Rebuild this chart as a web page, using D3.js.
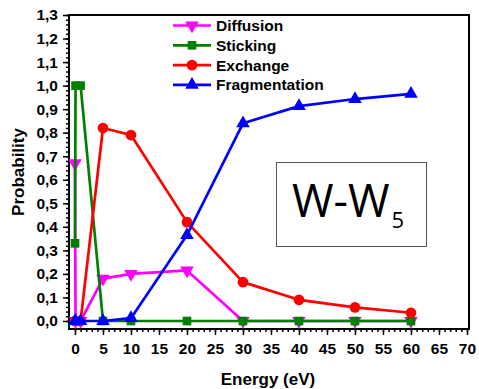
<!DOCTYPE html>
<html>
<head>
<meta charset="utf-8">
<script src="https://cdn.jsdelivr.net/npm/d3@7"></script>
<style>
  html, body { margin: 0; padding: 0; background: #fff; }
  svg { display: block; }
</style>
</head>
<body>
<svg id="chart" width="479" height="389"></svg>
<script>
// Collision energies (eV)
const energy = [0, 0.1, 1, 5, 10, 20, 30, 40, 50, 60];
// Outcome probabilities per energy
const diffusion     = [0.67, 0, 0, 0.18, 0.20, 0.215, 0, 0, 0, 0];
const sticking      = [0.33, 1.0, 1.0, 0, 0, 0, 0, 0, 0, 0];
const exchange      = [0, 0, 0, 0.82, 0.79, 0.42, 0.165, 0.09, 0.058, 0.035];
const fragmentation = [0, 0, 0, 0, 0.012, 0.365, 0.84, 0.913, 0.943, 0.965];

const seriesNames = ["Diffusion", "Sticking", "Exchange", "Fragmentation"];
const seriesColors = ["#ff00ff", "#008000", "#ff0000", "#0000ff"];
const seriesShapes = ["triangleDown", "square", "circle", "triangleUp"];
const seriesValues = [diffusion, sticking, exchange, fragmentation];

const xTicks = d3.range(0, 71, 5);
const yTicks = d3.range(0, 14).map(i => i / 10);

const FONT = "Liberation Sans, Arial, sans-serif";
const svg = d3.select("#chart");
const plot = { left: 69, right: 469, top: 15, bottom: 329 };

const x = d3.scaleLinear().domain([-1.07, 70.36]).range([plot.left, plot.right]);
const y = d3.scaleLinear().domain([-0.034, 1.3]).range([plot.bottom, plot.top]);

const fmt = d => d3.format(".1f")(d).replace(".", ",");

function styleLabels(g) {
  g.select(".domain").remove();
  g.selectAll("line").attr("stroke", "#000").attr("stroke-width", 1.5);
  g.selectAll("text")
    .attr("font-family", FONT).attr("font-weight", "bold")
    .attr("font-size", 15.5).attr("fill", "#000");
}

// Left axis: major ticks every 0.1, minor every 0.02
svg.append("g").attr("transform", `translate(${plot.left},0)`)
  .call(d3.axisLeft(y).tickValues(d3.range(0, 66).map(i => i / 50)).tickSize(3).tickFormat(""))
  .call(styleLabels);
svg.append("g").attr("transform", `translate(${plot.left},0)`)
  .call(d3.axisLeft(y).tickValues(yTicks).tickSize(6).tickPadding(5).tickFormat(fmt))
  .call(styleLabels);

// Bottom axis: major ticks every 5, minor every 1
svg.append("g").attr("transform", `translate(0,${plot.bottom})`)
  .call(d3.axisBottom(x).tickValues(d3.range(0, 71)).tickSize(3).tickFormat(""))
  .call(styleLabels);
svg.append("g").attr("transform", `translate(0,${plot.bottom})`)
  .call(d3.axisBottom(x).tickValues(xTicks).tickSize(6).tickPadding(8).tickFormat(d3.format("d")))
  .call(styleLabels);

// Frame
svg.append("rect")
  .attr("x", plot.left).attr("y", plot.top)
  .attr("width", plot.right - plot.left).attr("height", plot.bottom - plot.top)
  .attr("fill", "none").attr("stroke", "#000").attr("stroke-width", 2);

const symbolFor = {
  square: d3.symbol().type(d3.symbolSquare).size(75),
  circle: d3.symbol().type(d3.symbolCircle).size(90),
  triangleUp: d3.symbol().type(d3.symbolTriangle).size(80),
  triangleDown: d3.symbol().type(d3.symbolTriangle).size(80)
};
function drawMarker(g, shape, cx, cy, color) {
  g.append("path")
    .attr("d", symbolFor[shape]())
    .attr("transform", `translate(${cx},${cy})` + (shape === "triangleDown" ? " rotate(180)" : ""))
    .attr("fill", color);
}

const line = d3.line().x(d => x(d[0])).y(d => y(d[1]));
const plotArea = svg.append("g");

seriesValues.forEach((vals, i) => {
  const pts = energy.map((e, k) => [e, vals[k]]);
  const g = plotArea.append("g");
  g.append("path").datum(pts).attr("d", line)
    .attr("fill", "none").attr("stroke", seriesColors[i]).attr("stroke-width", 2.7)
    .attr("stroke-linejoin", "round");
  pts.forEach(p => drawMarker(g, seriesShapes[i], x(p[0]), y(p[1]), seriesColors[i]));
});

// Legend
const legend = svg.append("g");
seriesNames.forEach((name, i) => {
  const ly = 25.5 + i * 19.8;
  legend.append("line").attr("x1", 173).attr("x2", 211).attr("y1", ly).attr("y2", ly)
    .attr("stroke", seriesColors[i]).attr("stroke-width", 2.7);
  drawMarker(legend, seriesShapes[i], 192, ly, seriesColors[i]);
  legend.append("text").attr("x", 216).attr("y", ly + 5.5)
    .attr("font-family", FONT).attr("font-weight", "bold")
    .attr("font-size", 15.5).text(name);
});

// Axis titles
svg.append("text").attr("x", 268).attr("y", 385).attr("text-anchor", "middle")
  .attr("font-family", FONT).attr("font-weight", "bold")
  .attr("font-size", 17).text("Energy (eV)");
svg.append("text").attr("transform", "translate(24,172) rotate(-90)").attr("text-anchor", "middle")
  .attr("font-family", FONT).attr("font-weight", "bold")
  .attr("font-size", 17).text("Probability");

// System label
svg.append("rect").attr("x", 276.5).attr("y", 162.5).attr("width", 150).attr("height", 84)
  .attr("fill", "#fff").attr("stroke", "#555").attr("stroke-width", 1);
const lbl = svg.append("text").attr("x", 292).attr("y", 217)
  .attr("font-family", "Open Sans, sans-serif").attr("font-size", 45).attr("fill", "#000");
lbl.append("tspan").text("W-W");
lbl.append("tspan").attr("dx", 2).attr("dy", 11).attr("font-size", 22).text("5");
</script>
</body>
</html>
